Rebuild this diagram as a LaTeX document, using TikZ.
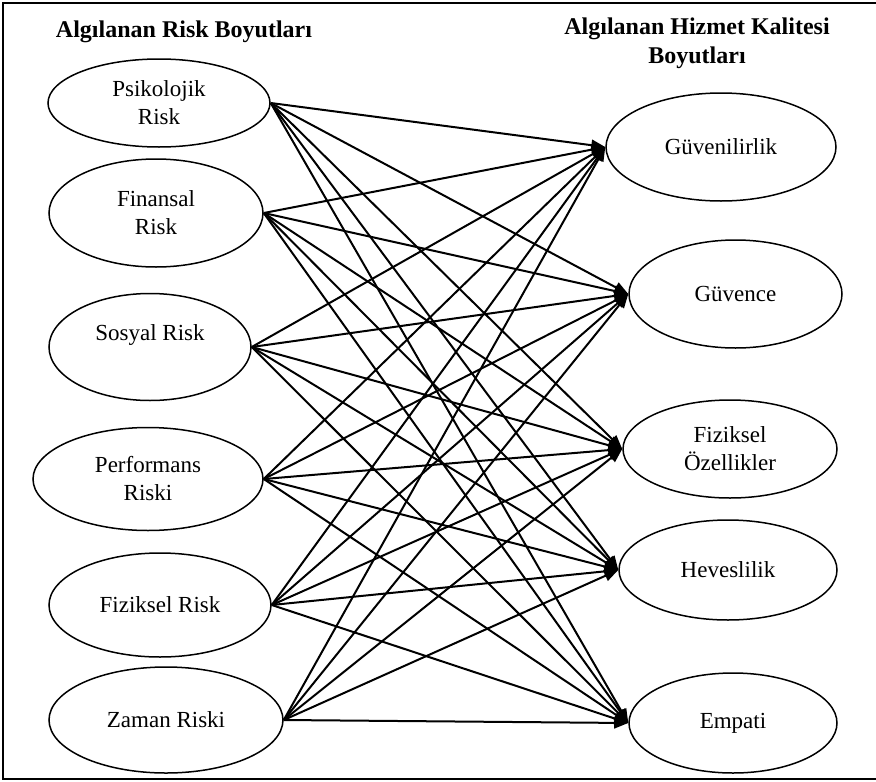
\documentclass[tikz,border=0pt]{standalone}
\usepackage{fontspec}
\setmainfont{Liberation Serif}
\usetikzlibrary{arrows.meta,shapes.geometric}
\begin{document}
\begin{tikzpicture}[x=1pt,y=-1pt,
  oval/.style={draw, line width=1.5pt, ellipse, inner sep=0pt, align=center,
    font=\fontsize{23}{28}\selectfont},
  link/.style={line width=2pt, -{Triangle[length=14pt,width=11pt]}},
  hdr/.style={font=\fontsize{24}{29}\selectfont\bfseries, align=center}]
\useasboundingbox (0,0) rectangle (876,782);
\coordinate (tr) at (876,3);
\coordinate (tl) at (3,3);
\coordinate (bl) at (3,779);
\coordinate (br) at (876,779);
\draw[line width=1.8pt] (tr) -- (tl) -- (bl) -- (br);

\node[hdr] (h1) at (184,32) {Algılanan Risk Boyutları};
\node[hdr] (h2) at (697,43) {Algılanan Hizmet Kalitesi\\Boyutları};

\node[oval, minimum width=222pt, minimum height=88pt]  (L1) at (159,103) {Psikolojik\\Risk};
\node[oval, minimum width=214pt, minimum height=108pt] (L2) at (156,213) {Finansal\\Risk};
\node[oval, minimum width=202pt, minimum height=107pt] (L3) at (150,347) {Sosyal Risk\\\mbox{}};
\node[oval, minimum width=230pt, minimum height=103pt] (L4) at (148,479) {Performans\\Riski};
\node[oval, minimum width=222pt, minimum height=104pt] (L5) at (160,605) {Fiziksel Risk};
\node[oval, minimum width=234pt, minimum height=106pt] (L6) at (166,720) {Zaman Riski};

\node[oval, minimum width=230pt, minimum height=108pt] (R1) at (721,147) {Güvenilirlik};
\node[oval, minimum width=213pt, minimum height=108pt] (R2) at (735.5,294) {Güvence};
\node[oval, minimum width=214pt, minimum height=98pt]  (R3) at (730,449) {Fiziksel\\Özellikler};
\node[oval, minimum width=218pt, minimum height=100pt] (R4) at (728,570) {Heveslilik};
\node[oval, minimum width=208pt, minimum height=100pt] (R5) at (733,723) {Empati};

\foreach \a in {1,...,6}{
  \foreach \b in {1,...,5}{
    \draw[link] (L\a.east) -- (R\b.west);
  }
}
\end{tikzpicture}
\end{document}
